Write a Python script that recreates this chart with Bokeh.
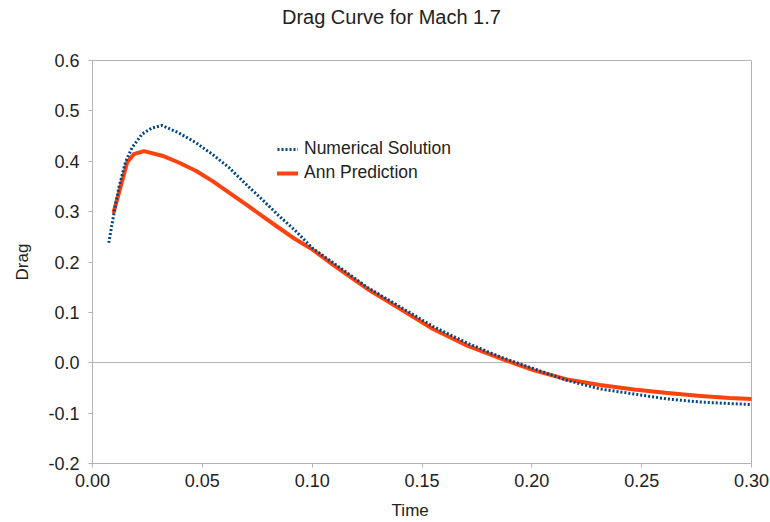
from bokeh.plotting import figure
from bokeh.models import Range1d, FixedTicker, NumeralTickFormatter, Legend, LegendItem, LinearAxis
from bokeh.embed import file_html
from bokeh.resources import INLINE

# Numerical solution (blue dotted)
t_num = [0.0074, 0.0097, 0.012, 0.015, 0.018, 0.0226, 0.027, 0.0317, 0.039, 0.047,
         0.0545, 0.062, 0.0697, 0.077, 0.0848, 0.0924, 0.100, 0.110, 0.125, 0.140,
         0.155, 0.1706, 0.186, 0.201, 0.216, 0.231, 0.2465, 0.2617, 0.2768, 0.290, 0.300]
v_num = [0.238, 0.295, 0.348, 0.398, 0.427, 0.454, 0.466, 0.471, 0.457, 0.437,
         0.414, 0.388, 0.355, 0.325, 0.292, 0.262, 0.228, 0.197, 0.150, 0.111,
         0.072, 0.039, 0.011, -0.012, -0.035, -0.052, -0.062, -0.072, -0.078, -0.081, -0.083]

# ANN prediction (orange solid)
t_ann = [0.0097, 0.0127, 0.0158, 0.0188, 0.0234, 0.0317, 0.039, 0.047, 0.0545, 0.062,
         0.0697, 0.077, 0.0848, 0.0924, 0.100, 0.110, 0.125, 0.140, 0.155, 0.1706,
         0.186, 0.201, 0.216, 0.231, 0.2465, 0.2617, 0.2768, 0.290, 0.300]
v_ann = [0.300, 0.348, 0.398, 0.414, 0.420, 0.411, 0.398, 0.381, 0.361, 0.338,
         0.315, 0.292, 0.268, 0.245, 0.225, 0.193, 0.147, 0.107, 0.067, 0.034,
         0.008, -0.015, -0.033, -0.044, -0.053, -0.060, -0.066, -0.070, -0.072]

y_ticks = [-0.2, -0.1, 0.0, 0.1, 0.2, 0.3, 0.4, 0.5, 0.6]
x_ticks = [0.0, 0.05, 0.10, 0.15, 0.20, 0.25, 0.30]

FONT = "Liberation Sans"
GRAY = "#b3b3b3"
TXT = "#222222"
NBSP = "\u00a0"

p = figure(width=770, height=522, output_backend="svg", toolbar_location=None,
           x_range=Range1d(0, 0.3), y_range=Range1d(-0.2, 0.6),
           min_border_left=92, min_border_right=19, min_border_top=60, min_border_bottom=59)

p.outline_line_color = GRAY
p.outline_line_width = 1
p.background_fill_color = "white"

p.xgrid.visible = False
p.ygrid.ticker = FixedTicker(ticks=[0.0])
p.ygrid.grid_line_color = GRAY
p.ygrid.grid_line_width = 1

for ax in (p.xaxis[0], p.yaxis[0]):
    ax.axis_line_color = GRAY
    ax.major_tick_line_color = GRAY
    ax.major_tick_out = 4
    ax.major_tick_in = 0
    ax.minor_tick_line_color = None
    ax.major_label_text_font = FONT
    ax.major_label_text_font_size = "18px"
    ax.major_label_text_color = TXT
    ax.axis_label_text_font = FONT
    ax.axis_label_text_font_size = "17px"
    ax.axis_label_text_font_style = "normal"
    ax.axis_label_text_color = TXT

p.yaxis.ticker = FixedTicker(ticks=y_ticks)
p.yaxis.formatter = NumeralTickFormatter(format="0.0")
p.yaxis.major_label_standoff = 9
p.yaxis.axis_label = "Drag"
p.yaxis.axis_label_standoff = 13

p.xaxis.ticker = FixedTicker(ticks=x_ticks)
p.xaxis.formatter = NumeralTickFormatter(format="0.00")
p.xaxis.major_label_standoff = 6


def label_axis(text, size, standoff):
    a = LinearAxis(ticker=FixedTicker(ticks=[]), axis_label=text)
    a.axis_line_color = None
    a.major_tick_line_color = None
    a.minor_tick_line_color = None
    a.major_tick_out = 0
    a.major_tick_in = 0
    a.minor_tick_out = 0
    a.minor_tick_in = 0
    a.major_label_text_font_size = "0px"
    a.axis_label_text_font = FONT
    a.axis_label_text_font_size = size
    a.axis_label_text_font_style = "normal"
    a.axis_label_text_color = TXT
    a.axis_label_standoff = standoff
    return a


# chart title (trailing no-break spaces move its centre left, as in the reference)
p.add_layout(label_axis("Drag Curve for Mach 1.7" + NBSP * 11, "20px", 33), "above")
# x-axis title
p.add_layout(label_axis("Time" + NBSP * 5, "17px", 11), "below")

r_ann = p.line(t_ann, v_ann, line_color="#ff420e", line_width=4, line_join="round", line_cap="round")
r_num = p.line(t_num, v_num, line_color="#004586", line_width=3, line_dash="2 2", line_join="round")

legend = Legend(items=[LegendItem(label="Numerical Solution", renderers=[r_num]),
                       LegendItem(label="Ann Prediction", renderers=[r_ann])],
                location=(185, 280))
legend.border_line_color = None
legend.background_fill_alpha = 0
legend.padding = 0
legend.margin = 0
legend.spacing = 3
legend.label_height = 20
legend.glyph_height = 20
legend.glyph_width = 21
legend.label_standoff = 6
legend.label_text_font = FONT
legend.label_text_font_size = "17.5px"
legend.label_text_color = TXT
p.add_layout(legend)

open("out.html", "w").write(file_html(p, INLINE))
